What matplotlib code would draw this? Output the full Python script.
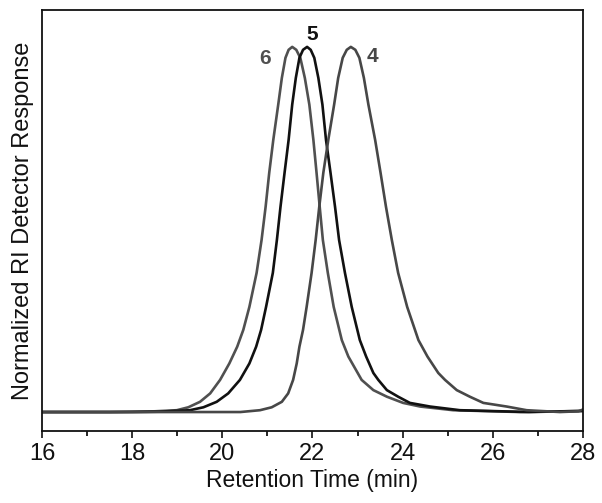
import matplotlib
matplotlib.use("Agg")
import matplotlib.pyplot as plt
from matplotlib.ticker import MultipleLocator

plt.rcParams["font.family"] = ["Liberation Sans", "DejaVu Sans"]

# points (retention time in min, normalized response)
time_6 = [16.0, 17.5, 18.5, 18.99, 19.245, 19.505, 19.73, 19.95, 20.155, 20.33, 20.465,
          20.60, 20.76, 20.87, 20.96, 21.04, 21.13, 21.24, 21.32, 21.40, 21.47, 21.55,
          21.64, 21.73, 21.83, 21.93, 22.02, 22.09, 22.16, 22.23, 22.34, 22.47, 22.65,
          22.795, 23.09, 23.35, 23.65, 24.01, 24.39, 25.12, 26.6, 28.0]
resp_6 = [0.0, 0.0, 0.002, 0.005, 0.013, 0.028, 0.051, 0.088, 0.133, 0.179, 0.225,
          0.288, 0.381, 0.471, 0.562, 0.655, 0.745, 0.842, 0.915, 0.970, 0.992, 1.0,
          0.992, 0.970, 0.915, 0.842, 0.745, 0.655, 0.562, 0.471, 0.381, 0.288, 0.197,
          0.152, 0.088, 0.060, 0.042, 0.025, 0.015, 0.005, 0.0, 0.003]

time_5 = [16.0, 18.0, 18.6, 19.28, 19.58, 19.875, 20.13, 20.39, 20.60, 20.75, 20.86,
          20.97, 21.12, 21.21, 21.29, 21.38, 21.47, 21.55, 21.63, 21.71, 21.79, 21.88,
          21.96, 22.04, 22.13, 22.22, 22.30, 22.40, 22.50, 22.59, 22.72, 22.87, 23.05,
          23.19, 23.35, 23.46, 23.65, 23.90, 24.16, 24.61, 25.27, 26.8, 28.0]
resp_5 = [0.0, 0.0, 0.001, 0.005, 0.013, 0.028, 0.051, 0.088, 0.133, 0.179, 0.225,
          0.288, 0.381, 0.471, 0.562, 0.655, 0.745, 0.842, 0.915, 0.970, 0.992, 1.0,
          0.992, 0.970, 0.915, 0.842, 0.745, 0.655, 0.562, 0.471, 0.381, 0.288, 0.197,
          0.152, 0.107, 0.088, 0.060, 0.042, 0.025, 0.015, 0.005, 0.0, 0.003]

time_4 = [16.0, 19.0, 20.4, 20.835, 21.095, 21.32, 21.46, 21.57, 21.65, 21.71, 21.79,
          21.87, 21.98, 22.07, 22.15, 22.24, 22.35, 22.48, 22.57, 22.67, 22.76, 22.85,
          22.95, 23.04, 23.14, 23.24, 23.39, 23.51, 23.63, 23.76, 23.90, 24.10, 24.35,
          24.55, 24.79, 24.94, 25.20, 25.49, 25.79, 26.31, 26.75, 27.49, 27.9, 28.0]
resp_4 = [0.0, 0.0, 0.0, 0.005, 0.013, 0.028, 0.051, 0.088, 0.133, 0.179, 0.225,
          0.288, 0.381, 0.471, 0.562, 0.655, 0.745, 0.842, 0.915, 0.970, 0.992, 1.0,
          0.992, 0.970, 0.915, 0.842, 0.745, 0.655, 0.562, 0.471, 0.381, 0.288, 0.197,
          0.152, 0.107, 0.088, 0.060, 0.042, 0.025, 0.015, 0.005, 0.0, 0.002, 0.007]

traces = [("6", time_6, resp_6, "#505050"),
          ("5", time_5, resp_5, "#111111"),
          ("4", time_4, resp_4, "#474747")]

# label anchors (time, response)
label_pos = {"6": (20.95, 0.967), "5": (22.0, 1.033), "4": (23.34, 0.973)}

fig = plt.figure(figsize=(6.02, 5.03), dpi=100)
ax = fig.add_axes([0.0698, 0.1431, 0.8986, 0.8370])

for name, t, r, color in traces:
    ax.plot(t, r, color=color, lw=1.9, solid_joinstyle="round")
    lx, ly = label_pos[name]
    ax.text(lx, ly, name, color=color, fontsize=15, fontweight="bold",
            ha="center", va="center")

ax.set_xlim(16, 28)
ax.set_ylim(-0.052, 1.101)
ax.xaxis.set_major_locator(MultipleLocator(2))
ax.xaxis.set_minor_locator(MultipleLocator(1))
ax.set_yticks([])
ax.tick_params(axis="x", which="major", direction="out", length=5, width=1.2,
               labelsize=17, pad=3.6, colors="#111111")
ax.tick_params(axis="x", which="minor", direction="out", length=3.5, width=1.2)
for spine in ax.spines.values():
    spine.set_linewidth(1.3)
    spine.set_color("#111111")

ax.set_xlabel("Retention Time (min)", fontsize=16.5, labelpad=3, color="#111111")
ax.set_ylabel("Normalized RI Detector Response", fontsize=17, labelpad=6, color="#111111")

fig.savefig("out.png", dpi=100)
